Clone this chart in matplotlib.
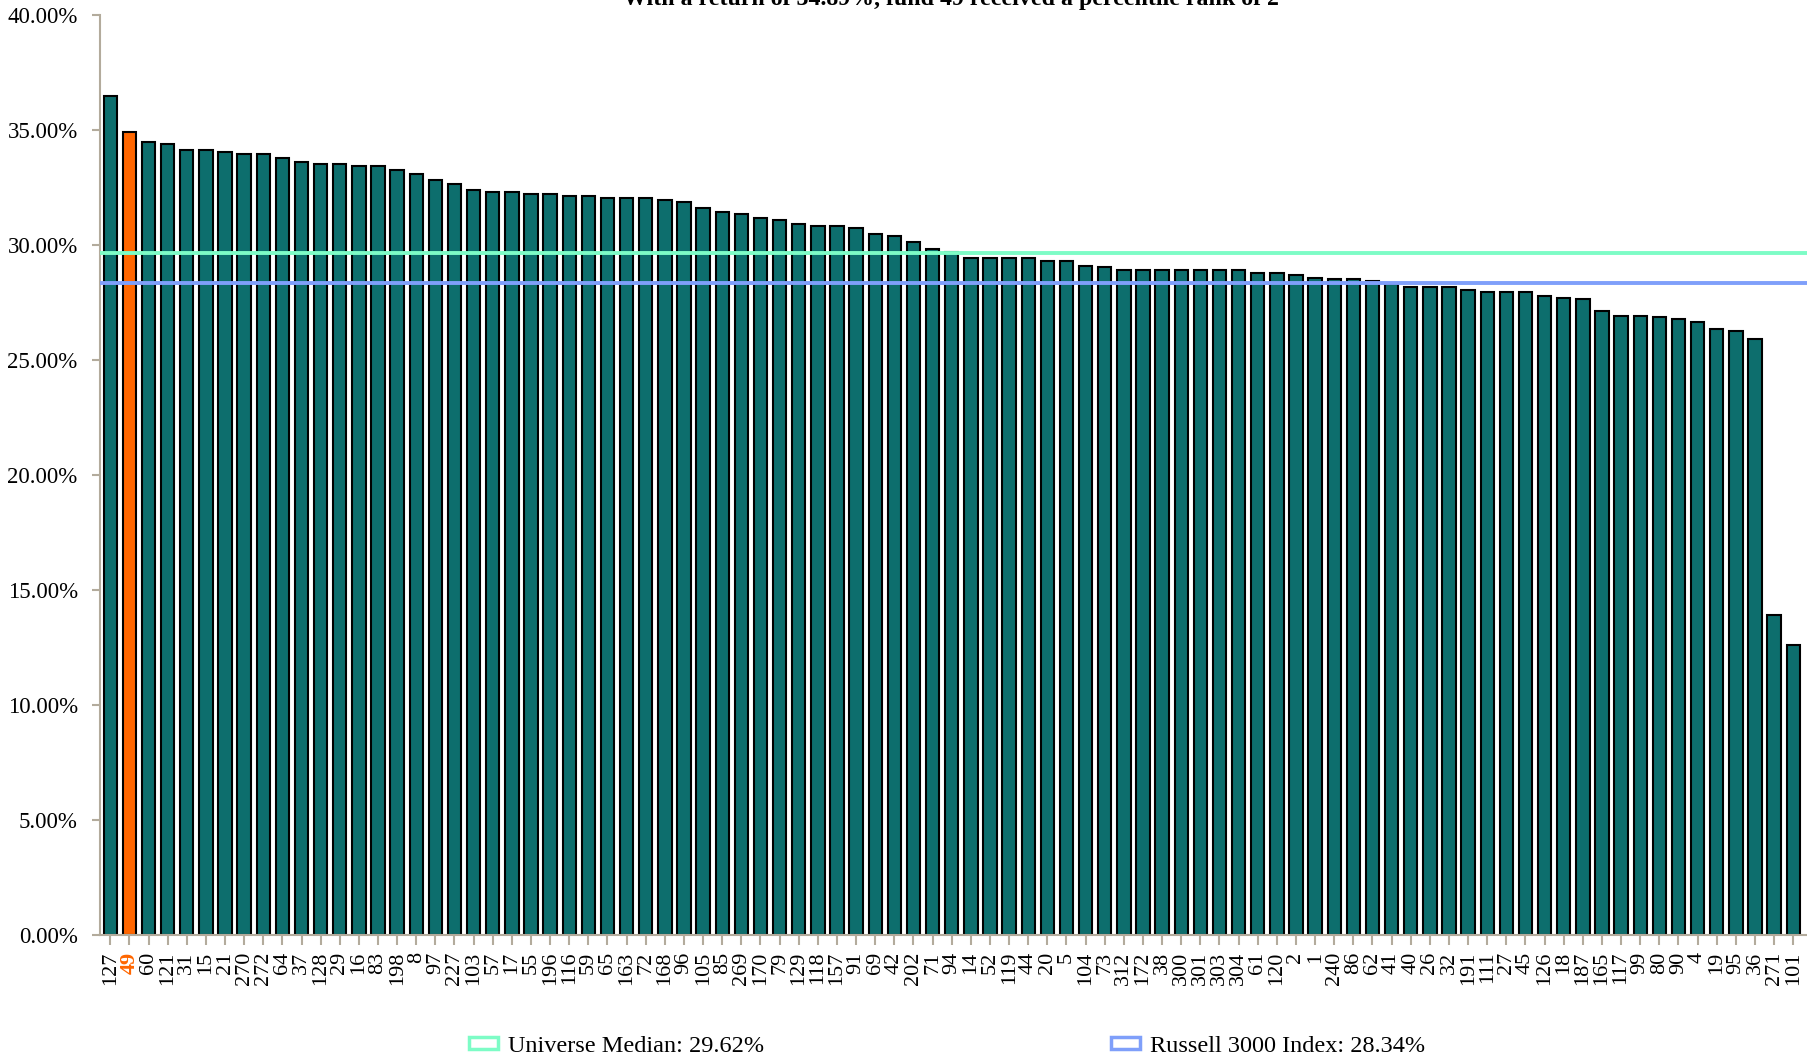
import matplotlib.pyplot as plt
from matplotlib.patches import Rectangle
from matplotlib.ticker import FuncFormatter

plt.rcParams['font.family'] = ['Liberation Serif', 'DejaVu Serif']

# Fund ids in ranked order and their returns (%)
funds = ['127', '49', '60', '121', '31', '15', '21', '270', '272', '64',
         '37', '128', '29', '16', '83', '198', '8', '97', '227', '103',
         '57', '17', '55', '196', '116', '59', '65', '163', '72', '168',
         '96', '105', '85', '269', '170', '79', '129', '118', '157', '91',
         '69', '42', '202', '71', '94', '14', '52', '119', '44', '20',
         '5', '104', '73', '312', '172', '38', '300', '301', '303', '304',
         '61', '120', '2', '1', '240', '86', '62', '41', '40', '26',
         '32', '191', '111', '27', '45', '126', '18', '187', '165', '117',
         '99', '80', '90', '4', '19', '95', '36', '271', '101']
returns = [36.45, 34.89, 34.47, 34.39, 34.13, 34.13, 34.04, 33.95, 33.95, 33.78,
           33.61, 33.52, 33.52, 33.43, 33.43, 33.26, 33.09, 32.83, 32.65, 32.39,
           32.30, 32.30, 32.22, 32.22, 32.13, 32.13, 32.04, 32.04, 32.04, 31.96,
           31.86, 31.59, 31.42, 31.35, 31.16, 31.07, 30.90, 30.81, 30.81, 30.73,
           30.46, 30.38, 30.12, 29.79, 29.66, 29.44, 29.44, 29.44, 29.44, 29.27,
           29.27, 29.09, 29.01, 28.92, 28.92, 28.92, 28.92, 28.92, 28.92, 28.92,
           28.75, 28.75, 28.66, 28.57, 28.49, 28.49, 28.40, 28.31, 28.14, 28.14,
           28.14, 28.05, 27.96, 27.96, 27.96, 27.79, 27.70, 27.62, 27.10, 26.92,
           26.92, 26.84, 26.75, 26.66, 26.32, 26.23, 25.88, 13.90, 12.60]
highlight = '49'
median_return = 29.62
index_return = 28.34

teal = '#0d6e6d'
orange = '#ff6600'
green = '#7dfcc6'
blue = '#7f9ffa'
axis_col = '#b3ab9c'

fig = plt.figure(figsize=(18.07, 10.60), dpi=100)
ax = fig.add_axes([0.0553, 0.1179, 0.9447, 0.8684])

x = list(range(len(funds)))
colors = [orange if f == highlight else teal for f in funds]
ax.bar(x, returns, width=0.7, color=colors, edgecolor='black', linewidth=1.5, zorder=2)

ax.axhline(median_return, color=green, lw=2.8, zorder=3)
ax.axhline(index_return, color=blue, lw=2.8, zorder=3)

ax.set_xlim(-0.54, len(funds) - 1 + 0.72)
ax.set_ylim(0, 40)
ax.set_yticks(range(0, 41, 5))
ax.yaxis.set_major_formatter(FuncFormatter(lambda v, p: f'{v:.2f}%'))

ax.set_xticks(x)
ax.set_xticklabels(funds, rotation=90, fontsize=16)
for lab in ax.get_xticklabels():
    if lab.get_text() == highlight:
        lab.set_color(orange)
        lab.set_fontweight('bold')

ax.tick_params(axis='y', labelsize=16.5, length=6, width=1.5, color=axis_col, pad=10)
ax.tick_params(axis='x', length=7, width=1.5, color=axis_col, pad=5)

for s in ['top', 'right']:
    ax.spines[s].set_visible(False)
for s in ['left', 'bottom']:
    ax.spines[s].set_color(axis_col)
    ax.spines[s].set_linewidth(1.5)

# Title, clipped by the top of the image as in the original
fig.text(0.526, 1 - 5 / 1060, 'With a return of 34.89%, fund 49 received a percentile rank of 2',
         ha='center', va='baseline', fontsize=17.2, fontweight='bold')

handles = [Rectangle((0, 0), 1, 1, facecolor='white', edgecolor=green, lw=2.5),
           Rectangle((0, 0), 1, 1, facecolor='white', edgecolor=blue, lw=2.5)]
labels = [f'Universe Median: {median_return:.2f}%', f'Russell 3000 Index: {index_return:.2f}%']
fig.legend(handles, labels, loc='center', bbox_to_anchor=(947 / 1807, 1 - 1046 / 1060),
           ncol=2, frameon=False, fontsize=17.5, handlelength=1.2, handleheight=0.4,
           handletextpad=0.4, columnspacing=14.3)

plt.savefig('out.png', dpi=100)
plt.close()
